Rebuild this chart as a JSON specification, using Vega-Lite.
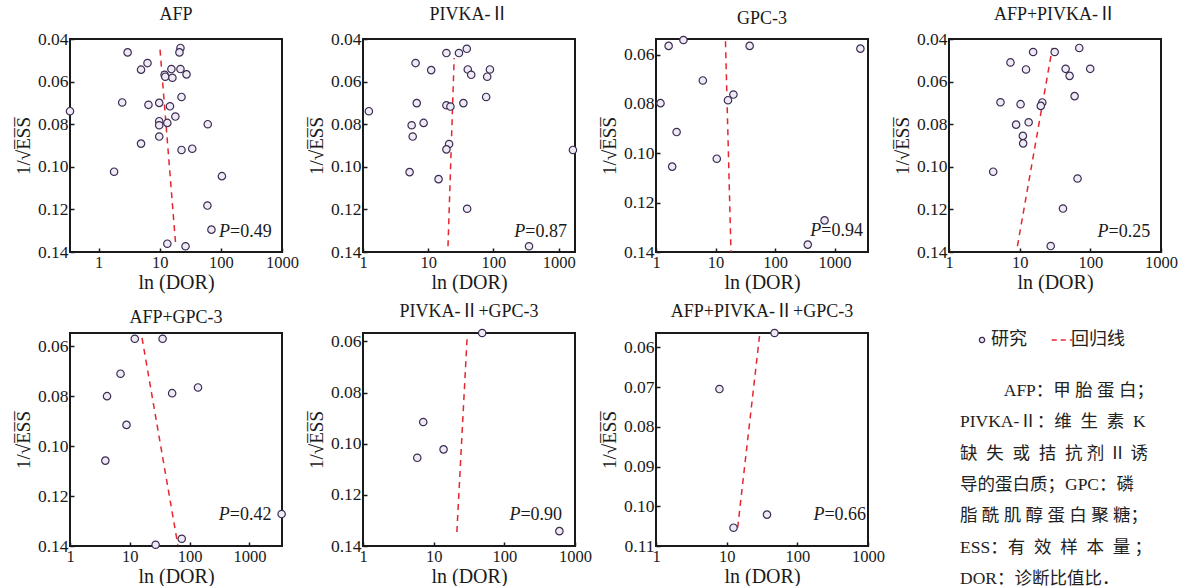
{
"$schema": "https://vega.github.io/schema/vega-lite/v6.json",
"padding": {"left": 13, "top": 5, "right": 0, "bottom": 0},
"background": "white",
"datasets": {
"pts": [
{"panel":"p1","dor":2.98,"inv":0.0463,"kind":"研究"},{"panel":"p1","dor":21.8,"inv":0.0442,"kind":"研究"},{"panel":"p1","dor":21.0,"inv":0.0463,"kind":"研究"},{"panel":"p1","dor":6.3,"inv":0.0513,"kind":"研究"},{"panel":"p1","dor":4.94,"inv":0.0544,"kind":"研究"},{"panel":"p1","dor":15.5,"inv":0.0541,"kind":"研究"},{"panel":"p1","dor":21.8,"inv":0.0541,"kind":"研究"},{"panel":"p1","dor":12.0,"inv":0.0568,"kind":"研究"},{"panel":"p1","dor":12.3,"inv":0.0577,"kind":"研究"},{"panel":"p1","dor":16.1,"inv":0.0582,"kind":"研究"},{"panel":"p1","dor":27.4,"inv":0.0566,"kind":"研究"},{"panel":"p1","dor":22.7,"inv":0.0672,"kind":"研究"},{"panel":"p1","dor":2.43,"inv":0.0698,"kind":"研究"},{"panel":"p1","dor":6.53,"inv":0.0709,"kind":"研究"},{"panel":"p1","dor":9.8,"inv":0.0700,"kind":"研究"},{"panel":"p1","dor":0.34,"inv":0.0739,"kind":"研究"},{"panel":"p1","dor":14.7,"inv":0.0716,"kind":"研究"},{"panel":"p1","dor":18.0,"inv":0.0764,"kind":"研究"},{"panel":"p1","dor":9.8,"inv":0.0786,"kind":"研究"},{"panel":"p1","dor":9.8,"inv":0.0805,"kind":"研究"},{"panel":"p1","dor":13.3,"inv":0.0794,"kind":"研究"},{"panel":"p1","dor":61,"inv":0.0800,"kind":"研究"},{"panel":"p1","dor":9.8,"inv":0.0858,"kind":"研究"},{"panel":"p1","dor":4.94,"inv":0.0891,"kind":"研究"},{"panel":"p1","dor":22.7,"inv":0.0921,"kind":"研究"},{"panel":"p1","dor":34.0,"inv":0.0915,"kind":"研究"},{"panel":"p1","dor":1.79,"inv":0.1023,"kind":"研究"},{"panel":"p1","dor":104,"inv":0.1044,"kind":"研究"},{"panel":"p1","dor":60.2,"inv":0.1182,"kind":"研究"},{"panel":"p1","dor":70.1,"inv":0.1295,"kind":"研究"},{"panel":"p1","dor":13.3,"inv":0.1361,"kind":"研究"},{"panel":"p1","dor":26.4,"inv":0.1373,"kind":"研究"},
{"panel":"p2","dor":19.0,"inv":0.0466,"kind":"研究"},{"panel":"p2","dor":29.6,"inv":0.0466,"kind":"研究"},{"panel":"p2","dor":39.0,"inv":0.0446,"kind":"研究"},{"panel":"p2","dor":6.4,"inv":0.0513,"kind":"研究"},{"panel":"p2","dor":11.1,"inv":0.0546,"kind":"研究"},{"panel":"p2","dor":40.4,"inv":0.0543,"kind":"研究"},{"panel":"p2","dor":45.6,"inv":0.0568,"kind":"研究"},{"panel":"p2","dor":88.3,"inv":0.0543,"kind":"研究"},{"panel":"p2","dor":80.2,"inv":0.0577,"kind":"研究"},{"panel":"p2","dor":77.3,"inv":0.0672,"kind":"研究"},{"panel":"p2","dor":1.23,"inv":0.0739,"kind":"研究"},{"panel":"p2","dor":6.67,"inv":0.0701,"kind":"研究"},{"panel":"p2","dor":19.0,"inv":0.0711,"kind":"研究"},{"panel":"p2","dor":21.9,"inv":0.0717,"kind":"研究"},{"panel":"p2","dor":34.6,"inv":0.0701,"kind":"研究"},{"panel":"p2","dor":5.57,"inv":0.0805,"kind":"研究"},{"panel":"p2","dor":8.5,"inv":0.0794,"kind":"研究"},{"panel":"p2","dor":5.78,"inv":0.0858,"kind":"研究"},{"panel":"p2","dor":20.9,"inv":0.0893,"kind":"研究"},{"panel":"p2","dor":19.0,"inv":0.0918,"kind":"研究"},{"panel":"p2","dor":1655,"inv":0.0921,"kind":"研究"},{"panel":"p2","dor":5.18,"inv":0.1025,"kind":"研究"},{"panel":"p2","dor":14.4,"inv":0.1058,"kind":"研究"},{"panel":"p2","dor":39.5,"inv":0.1197,"kind":"研究"},{"panel":"p2","dor":351,"inv":0.1373,"kind":"研究"},
{"panel":"p3","dor":2.89,"inv":0.0541,"kind":"研究"},{"panel":"p3","dor":1.63,"inv":0.0565,"kind":"研究"},{"panel":"p3","dor":37.5,"inv":0.0565,"kind":"研究"},{"panel":"p3","dor":2720,"inv":0.0576,"kind":"研究"},{"panel":"p3","dor":6.12,"inv":0.0705,"kind":"研究"},{"panel":"p3","dor":1.19,"inv":0.0797,"kind":"研究"},{"panel":"p3","dor":20.0,"inv":0.0762,"kind":"研究"},{"panel":"p3","dor":16.2,"inv":0.0785,"kind":"研究"},{"panel":"p3","dor":2.22,"inv":0.0914,"kind":"研究"},{"panel":"p3","dor":10.5,"inv":0.1022,"kind":"研究"},{"panel":"p3","dor":1.87,"inv":0.1054,"kind":"研究"},{"panel":"p3","dor":680,"inv":0.1272,"kind":"研究"},{"panel":"p3","dor":355,"inv":0.1370,"kind":"研究"},
{"panel":"p4","dor":15.5,"inv":0.0461,"kind":"研究"},{"panel":"p4","dor":31.3,"inv":0.0461,"kind":"研究"},{"panel":"p4","dor":69.7,"inv":0.0442,"kind":"研究"},{"panel":"p4","dor":7.41,"inv":0.0510,"kind":"研究"},{"panel":"p4","dor":12.3,"inv":0.0543,"kind":"研究"},{"panel":"p4","dor":44.7,"inv":0.0540,"kind":"研究"},{"panel":"p4","dor":50.9,"inv":0.0573,"kind":"研究"},{"panel":"p4","dor":99.6,"inv":0.0540,"kind":"研究"},{"panel":"p4","dor":59.9,"inv":0.0668,"kind":"研究"},{"panel":"p4","dor":5.35,"inv":0.0697,"kind":"研究"},{"panel":"p4","dor":10.3,"inv":0.0706,"kind":"研究"},{"panel":"p4","dor":20.9,"inv":0.0698,"kind":"研究"},{"panel":"p4","dor":19.9,"inv":0.0714,"kind":"研究"},{"panel":"p4","dor":13.4,"inv":0.0791,"kind":"研究"},{"panel":"p4","dor":8.9,"inv":0.0802,"kind":"研究"},{"panel":"p4","dor":11.1,"inv":0.0855,"kind":"研究"},{"panel":"p4","dor":11.2,"inv":0.0890,"kind":"研究"},{"panel":"p4","dor":4.22,"inv":0.1023,"kind":"研究"},{"panel":"p4","dor":65.9,"inv":0.1055,"kind":"研究"},{"panel":"p4","dor":41.0,"inv":0.1196,"kind":"研究"},{"panel":"p4","dor":27.5,"inv":0.1372,"kind":"研究"},
{"panel":"p5","dor":12.1,"inv":0.0570,"kind":"研究"},{"panel":"p5","dor":35.3,"inv":0.0570,"kind":"研究"},{"panel":"p5","dor":7.0,"inv":0.0710,"kind":"研究"},{"panel":"p5","dor":4.16,"inv":0.0800,"kind":"研究"},{"panel":"p5","dor":51,"inv":0.0788,"kind":"研究"},{"panel":"p5","dor":138,"inv":0.0765,"kind":"研究"},{"panel":"p5","dor":8.8,"inv":0.0915,"kind":"研究"},{"panel":"p5","dor":3.9,"inv":0.1058,"kind":"研究"},{"panel":"p5","dor":3450,"inv":0.1272,"kind":"研究"},{"panel":"p5","dor":73.8,"inv":0.1371,"kind":"研究"},{"panel":"p5","dor":27.0,"inv":0.1395,"kind":"研究"},
{"panel":"p6","dor":48.6,"inv":0.0567,"kind":"研究"},{"panel":"p6","dor":7.12,"inv":0.0915,"kind":"研究"},{"panel":"p6","dor":13.8,"inv":0.1022,"kind":"研究"},{"panel":"p6","dor":5.86,"inv":0.1055,"kind":"研究"},{"panel":"p6","dor":601,"inv":0.1342,"kind":"研究"},
{"panel":"p7","dor":47.6,"inv":0.0564,"kind":"研究"},{"panel":"p7","dor":7.9,"inv":0.0705,"kind":"研究"},{"panel":"p7","dor":37.2,"inv":0.1021,"kind":"研究"},{"panel":"p7","dor":12.5,"inv":0.1054,"kind":"研究"}
],
"lines": [
{"panel":"p1","dor":10.1,"inv":0.045,"kind":"回归线"},{"panel":"p1","dor":18.3,"inv":0.1373,"kind":"回归线"},
{"panel":"p2","dor":25.0,"inv":0.0489,"kind":"回归线"},{"panel":"p2","dor":20.1,"inv":0.1373,"kind":"回归线"},
{"panel":"p3","dor":14.7,"inv":0.0546,"kind":"回归线"},{"panel":"p3","dor":18.2,"inv":0.14,"kind":"回归线"},
{"panel":"p4","dor":29.0,"inv":0.0442,"kind":"回归线"},{"panel":"p4","dor":9.3,"inv":0.1372,"kind":"回归线"},
{"panel":"p5","dor":16.0,"inv":0.0567,"kind":"回归线"},{"panel":"p5","dor":63.4,"inv":0.1395,"kind":"回归线"},
{"panel":"p6","dor":29.8,"inv":0.0580,"kind":"回归线"},{"panel":"p6","dor":21.3,"inv":0.1345,"kind":"回归线"},
{"panel":"p7","dor":29.3,"inv":0.0568,"kind":"回归线"},{"panel":"p7","dor":14.3,"inv":0.1054,"kind":"回归线"}
],
"pv": [
{"panel":"p1","dor":141,"inv":0.1306,"p":"=0.49"},
{"panel":"p2","dor":308,"inv":0.1306,"p":"=0.87"},
{"panel":"p3","dor":600,"inv":0.1316,"p":"=0.94"},
{"panel":"p4","dor":181,"inv":0.1306,"p":"=0.25"},
{"panel":"p5","dor":468,"inv":0.1276,"p":"=0.42"},
{"panel":"p6","dor":169,"inv":0.1277,"p":"=0.90"},
{"panel":"p7","dor":242,"inv":0.1023,"p":"=0.66"}
]
},
"columns": 4,
"bounds": "flush",
"align": "all",
"spacing": {"row": 81, "column": 81},
"concat": [
{"width":212,"height":213,"title":"AFP",
 "encoding":{"x":{"field":"dor","type":"quantitative","title":"ln (DOR)","scale":{"type":"log","domain":[0.34,1000],"nice":false},"axis":{"values":[1,10,100,1000],"format":"d"}},
 "y":{"field":"inv","type":"quantitative","title":"1/\u221aE\u0305S\u0305S\u0305","scale":{"domain":[0.04,0.14],"reverse":true,"nice":false,"zero":false},"axis":{"values":[0.04,0.06,0.08,0.10,0.12,0.14],"format":".2f"}}},
 "layer":[
  {"data":{"name":"lines"},"transform":[{"filter":"datum.panel==='p1'"}],"mark":{"type":"line","strokeDash":[6,5],"strokeWidth":1.5},"encoding":{"color":{"field":"kind","type":"nominal","scale":{"domain":["研究","回归线"],"range":["#3b2d52","#e5262e"]}}}},
  {"data":{"name":"pts"},"transform":[{"filter":"datum.panel==='p1'"}],"mark":{"type":"point","filled":false,"fill":"#efeaf5","size":55,"strokeWidth":1.2,"opacity":1},"encoding":{"color":{"field":"kind","type":"nominal","scale":{"domain":["研究","回归线"],"range":["#3b2d52","#e5262e"]},
    "legend":{"orient":"none","legendX":903,"legendY":292,"direction":"horizontal","title":null,"labelFont":"Noto Sans CJK SC","labelFontSize":18,"labelColor":"#222222","columnPadding":22,"labelOffset":0,"symbolStrokeWidth":1.3,
      "symbolType":{"expr":"datum.value === '回归线' ? 'stroke' : 'circle'"},
      "symbolSize":{"expr":"datum.value === '回归线' ? 420 : 28"},
      "symbolDash":{"expr":"datum.value === '回归线' ? [5,4] : [1,0]"}}}}},
  {"data":{"name":"pv"},"transform":[{"filter":"datum.panel==='p1'"}],"mark":{"type":"text","text":"P","fontStyle":"italic","align":"right","baseline":"middle","fontSize":18}},
  {"data":{"name":"pv"},"transform":[{"filter":"datum.panel==='p1'"}],"mark":{"type":"text","align":"left","baseline":"middle","fontSize":18},"encoding":{"text":{"field":"p"}}}
 ]},
{"width":212,"height":213,"title":"PIVKA-Ⅱ",
 "encoding":{"x":{"field":"dor","type":"quantitative","title":"ln (DOR)","scale":{"type":"log","domain":[1,1780],"nice":false},"axis":{"values":[1,10,100,1000],"format":"d"}},
 "y":{"field":"inv","type":"quantitative","title":"1/\u221aE\u0305S\u0305S\u0305","scale":{"domain":[0.04,0.14],"reverse":true,"nice":false,"zero":false},"axis":{"values":[0.04,0.06,0.08,0.10,0.12,0.14],"format":".2f"}}},
 "layer":[
  {"data":{"name":"lines"},"transform":[{"filter":"datum.panel==='p2'"}],"mark":{"type":"line","strokeDash":[6,5],"strokeWidth":1.5},"encoding":{"color":{"field":"kind","type":"nominal"}}},
  {"data":{"name":"pts"},"transform":[{"filter":"datum.panel==='p2'"}],"mark":{"type":"point","filled":false,"fill":"#efeaf5","size":55,"strokeWidth":1.2,"opacity":1},"encoding":{"color":{"field":"kind","type":"nominal"}}},
  {"data":{"name":"pv"},"transform":[{"filter":"datum.panel==='p2'"}],"mark":{"type":"text","text":"P","fontStyle":"italic","align":"right","baseline":"middle","fontSize":18}},
  {"data":{"name":"pv"},"transform":[{"filter":"datum.panel==='p2'"}],"mark":{"type":"text","align":"left","baseline":"middle","fontSize":18},"encoding":{"text":{"field":"p"}}}
 ]},
{"width":212,"height":213,"title":"GPC-3",
 "encoding":{"x":{"field":"dor","type":"quantitative","title":"ln (DOR)","scale":{"type":"log","domain":[1,3650],"nice":false},"axis":{"values":[1,10,100,1000],"format":"d"}},
 "y":{"field":"inv","type":"quantitative","title":"1/\u221aE\u0305S\u0305S\u0305","scale":{"domain":[0.0537,0.14],"reverse":true,"nice":false,"zero":false},"axis":{"values":[0.06,0.08,0.10,0.12,0.14],"format":".2f"}}},
 "layer":[
  {"data":{"name":"lines"},"transform":[{"filter":"datum.panel==='p3'"}],"mark":{"type":"line","strokeDash":[6,5],"strokeWidth":1.5},"encoding":{"color":{"field":"kind","type":"nominal"}}},
  {"data":{"name":"pts"},"transform":[{"filter":"datum.panel==='p3'"}],"mark":{"type":"point","filled":false,"fill":"#efeaf5","size":55,"strokeWidth":1.2,"opacity":1},"encoding":{"color":{"field":"kind","type":"nominal"}}},
  {"data":{"name":"pv"},"transform":[{"filter":"datum.panel==='p3'"}],"mark":{"type":"text","text":"P","fontStyle":"italic","align":"right","baseline":"middle","fontSize":18}},
  {"data":{"name":"pv"},"transform":[{"filter":"datum.panel==='p3'"}],"mark":{"type":"text","align":"left","baseline":"middle","fontSize":18},"encoding":{"text":{"field":"p"}}}
 ]},
{"width":212,"height":213,"title":"AFP+PIVKA-Ⅱ",
 "encoding":{"x":{"field":"dor","type":"quantitative","title":"ln (DOR)","scale":{"type":"log","domain":[1,1000],"nice":false},"axis":{"values":[1,10,100,1000],"format":"d"}},
 "y":{"field":"inv","type":"quantitative","title":"1/\u221aE\u0305S\u0305S\u0305","scale":{"domain":[0.04,0.14],"reverse":true,"nice":false,"zero":false},"axis":{"values":[0.04,0.06,0.08,0.10,0.12,0.14],"format":".2f"}}},
 "layer":[
  {"data":{"name":"lines"},"transform":[{"filter":"datum.panel==='p4'"}],"mark":{"type":"line","strokeDash":[6,5],"strokeWidth":1.5},"encoding":{"color":{"field":"kind","type":"nominal"}}},
  {"data":{"name":"pts"},"transform":[{"filter":"datum.panel==='p4'"}],"mark":{"type":"point","filled":false,"fill":"#efeaf5","size":55,"strokeWidth":1.2,"opacity":1},"encoding":{"color":{"field":"kind","type":"nominal"}}},
  {"data":{"name":"pv"},"transform":[{"filter":"datum.panel==='p4'"}],"mark":{"type":"text","text":"P","fontStyle":"italic","align":"right","baseline":"middle","fontSize":18}},
  {"data":{"name":"pv"},"transform":[{"filter":"datum.panel==='p4'"}],"mark":{"type":"text","align":"left","baseline":"middle","fontSize":18},"encoding":{"text":{"field":"p"}}}
 ]},
{"width":212,"height":213,"title":"AFP+GPC-3",
 "encoding":{"x":{"field":"dor","type":"quantitative","title":"ln (DOR)","scale":{"type":"log","domain":[1,3500],"nice":false},"axis":{"values":[1,10,100,1000],"format":"d"}},
 "y":{"field":"inv","type":"quantitative","title":"1/\u221aE\u0305S\u0305S\u0305","scale":{"domain":[0.0547,0.14],"reverse":true,"nice":false,"zero":false},"axis":{"values":[0.06,0.08,0.10,0.12,0.14],"format":".2f"}}},
 "layer":[
  {"data":{"name":"lines"},"transform":[{"filter":"datum.panel==='p5'"}],"mark":{"type":"line","strokeDash":[6,5],"strokeWidth":1.5},"encoding":{"color":{"field":"kind","type":"nominal"}}},
  {"data":{"name":"pts"},"transform":[{"filter":"datum.panel==='p5'"}],"mark":{"type":"point","filled":false,"fill":"#efeaf5","size":55,"strokeWidth":1.2,"opacity":1},"encoding":{"color":{"field":"kind","type":"nominal"}}},
  {"data":{"name":"pv"},"transform":[{"filter":"datum.panel==='p5'"}],"mark":{"type":"text","text":"P","fontStyle":"italic","align":"right","baseline":"middle","fontSize":18}},
  {"data":{"name":"pv"},"transform":[{"filter":"datum.panel==='p5'"}],"mark":{"type":"text","align":"left","baseline":"middle","fontSize":18},"encoding":{"text":{"field":"p"}}}
 ]},
{"width":212,"height":213,"title":"PIVKA-Ⅱ+GPC-3",
 "encoding":{"x":{"field":"dor","type":"quantitative","title":"ln (DOR)","scale":{"type":"log","domain":[1,1000],"nice":false},"axis":{"values":[1,10,100,1000],"format":"d"}},
 "y":{"field":"inv","type":"quantitative","title":"1/\u221aE\u0305S\u0305S\u0305","scale":{"domain":[0.0567,0.14],"reverse":true,"nice":false,"zero":false},"axis":{"values":[0.06,0.08,0.10,0.12,0.14],"format":".2f"}}},
 "layer":[
  {"data":{"name":"lines"},"transform":[{"filter":"datum.panel==='p6'"}],"mark":{"type":"line","strokeDash":[6,5],"strokeWidth":1.5},"encoding":{"color":{"field":"kind","type":"nominal"}}},
  {"data":{"name":"pts"},"transform":[{"filter":"datum.panel==='p6'"}],"mark":{"type":"point","filled":false,"fill":"#efeaf5","size":55,"strokeWidth":1.2,"opacity":1},"encoding":{"color":{"field":"kind","type":"nominal"}}},
  {"data":{"name":"pv"},"transform":[{"filter":"datum.panel==='p6'"}],"mark":{"type":"text","text":"P","fontStyle":"italic","align":"right","baseline":"middle","fontSize":18}},
  {"data":{"name":"pv"},"transform":[{"filter":"datum.panel==='p6'"}],"mark":{"type":"text","align":"left","baseline":"middle","fontSize":18},"encoding":{"text":{"field":"p"}}}
 ]},
{"width":212,"height":213,"title":"AFP+PIVKA-Ⅱ+GPC-3",
 "encoding":{"x":{"field":"dor","type":"quantitative","title":"ln (DOR)","scale":{"type":"log","domain":[1,1000],"nice":false},"axis":{"values":[1,10,100,1000],"format":"d"}},
 "y":{"field":"inv","type":"quantitative","title":"1/\u221aE\u0305S\u0305S\u0305","scale":{"domain":[0.0564,0.11],"reverse":true,"nice":false,"zero":false},"axis":{"values":[0.06,0.07,0.08,0.09,0.10,0.11],"format":".2f"}}},
 "layer":[
  {"data":{"name":"lines"},"transform":[{"filter":"datum.panel==='p7'"}],"mark":{"type":"line","strokeDash":[6,5],"strokeWidth":1.5},"encoding":{"color":{"field":"kind","type":"nominal"}}},
  {"data":{"name":"pts"},"transform":[{"filter":"datum.panel==='p7'"}],"mark":{"type":"point","filled":false,"fill":"#efeaf5","size":55,"strokeWidth":1.2,"opacity":1},"encoding":{"color":{"field":"kind","type":"nominal"}}},
  {"data":{"name":"pv"},"transform":[{"filter":"datum.panel==='p7'"}],"mark":{"type":"text","text":"P","fontStyle":"italic","align":"right","baseline":"middle","fontSize":18}},
  {"data":{"name":"pv"},"transform":[{"filter":"datum.panel==='p7'"}],"mark":{"type":"text","align":"left","baseline":"middle","fontSize":18},"encoding":{"text":{"field":"p"}}}
 ]},
{"width":212,"height":213,"view":{"stroke":null},
 "data":{"values":[{}]},
 "mark":{"type":"text","align":"left","baseline":"top","lineHeight":31.3,"font":"Liberation Serif, Noto Sans CJK SC","fontSize":17.5,"color":"#222222",
   "text":["\u200b\u3000\u3000\u2002AFP：甲 胎 蛋 白；","PIVKA-Ⅱ：维\u2002生\u2002素\u2002K","缺\u2002失\u2002或\u2002拮\u2002抗 剂 Ⅱ 诱","导的蛋白质；GPC：磷","脂 酰 肌 醇 蛋 白 聚 糖；","ESS：有\u2002效\u2002样\u2002本\u2002量 ；","DOR：诊断比值比．"]},
 "encoding":{"x":{"value":11},"y":{"value":49}}}
],
"config": {
 "font": "Liberation Serif",
 "view": {"stroke": "#1a1a1a", "strokeWidth": 2},
 "axis": {"domain": false, "grid": false, "tickSize": -4, "tickColor": "#1a1a1a", "tickWidth": 1.5, "labelFont": "Liberation Serif", "labelFontSize": 16.5, "labelColor": "#1a1a1a", "titleFont": "Liberation Serif", "titleFontWeight": "normal", "titleColor": "#1a1a1a", "labelFlush": false},
 "axisX": {"labelPadding": 6, "titlePadding": 2, "titleFontSize": 20, "titleFont": "Liberation Serif", "titleFontWeight": 400},
 "axisY": {"labelPadding": 6, "titlePadding": 4, "labelFontSize": 17.5, "titleFontSize": 19, "titleFont": "Liberation Serif", "titleFontWeight": 400},
 "title": {"font": "Liberation Serif, Noto Sans CJK SC", "fontSize": 18, "fontWeight": "normal", "color": "#1a1a1a", "offset": 6, "frame": "group"},
 "text": {"font": "Liberation Serif", "color": "#1a1a1a"}
}
}
